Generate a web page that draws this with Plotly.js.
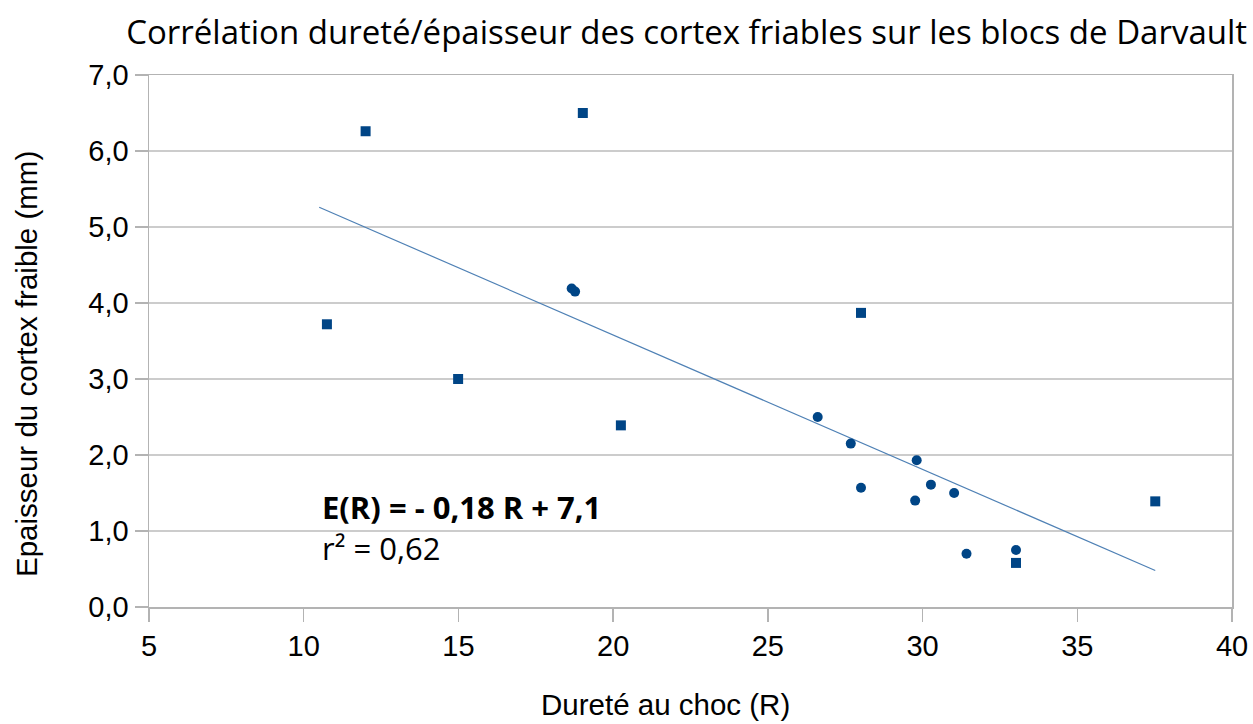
<!DOCTYPE html>
<html>
<head>
<meta charset="utf-8">
<script src="https://cdn.plot.ly/plotly-3.0.1.min.js"></script>
<style>html,body{margin:0;padding:0;background:#fff;}#chart{width:1253px;height:724px;}</style>
</head>
<body>
<div id="chart"></div>
<script>
// Square-marker series
const squareX = [10.75, 12.0, 19.02, 14.99, 20.25, 28.01, 33.02, 37.52];
const squareY = [3.72, 6.26, 6.50, 3.00, 2.39, 3.87, 0.58, 1.39];
// Circle-marker series
const circleX = [18.66, 18.77, 26.61, 27.68, 28.01, 29.81, 29.76, 30.27, 31.02, 31.42, 33.02];
const circleY = [4.19, 4.15, 2.50, 2.15, 1.57, 1.93, 1.40, 1.61, 1.50, 0.70, 0.75];
// Linear trend line endpoints
const trendX = [10.5, 37.52];
const trendY = [5.26, 0.48];
// Text
const chartTitle = "Corrélation dureté/épaisseur des cortex friables sur les blocs de Darvault";
const xTitle = "Dureté au choc (R)";
const yTitle = "Epaisseur du cortex fraible (mm)";
const eqText = "<b>E(R) = - 0,18 R + 7,1</b>";
const r2Text = "r² = 0,62";

const blue = "#004586";
const traces = [
  {x: trendX, y: trendY, type: "scatter", mode: "lines", line: {color: "#4f81b5", width: 1.2}, hoverinfo: "skip"},
  {x: squareX, y: squareY, type: "scatter", mode: "markers", marker: {symbol: "square", size: 10, color: blue}},
  {x: circleX, y: circleY, type: "scatter", mode: "markers", marker: {symbol: "circle", size: 10, color: blue}}
];
const W = 1253, H = 724;
const axFont = {family: "Liberation Sans, sans-serif", size: 29.5, color: "#000"};
const layout = {
  width: W, height: H,
  margin: {l: 149, r: 21, t: 75, b: 117},
  paper_bgcolor: "#fff", plot_bgcolor: "#fff",
  showlegend: false,
  separators: ", ",
  title: {text: chartTitle, font: {family: "Liberation Sans Narrow, Open Sans, sans-serif", size: 33, color: "#000"}, x: 0.548, xanchor: "center", y: 0.955, yanchor: "middle"},
  xaxis: {
    range: [5, 40], tick0: 5, dtick: 5, showgrid: false, zeroline: false,
    showline: true, linecolor: "#b3b3b3", linewidth: 1.5, mirror: true,
    ticks: "outside", ticklen: 13, tickcolor: "#b3b3b3", tickwidth: 1.5,
    tickfont: {family: "Liberation Sans, sans-serif", size: 29, color: "#000"}
  },
  yaxis: {
    range: [0, 7], dtick: 1, tickformat: ".1f", showgrid: true, gridcolor: "#cccccc", gridwidth: 1.5, zeroline: false,
    showline: true, linecolor: "#b3b3b3", linewidth: 1.5, mirror: true,
    ticks: "outside", ticklen: 13, tickcolor: "#b3b3b3", tickwidth: 1.5,
    tickfont: {family: "Liberation Sans, sans-serif", size: 29, color: "#000"}
  },
  annotations: [
    {xref: "paper", yref: "paper", x: (665-149)/1083, y: (607-704)/532, xanchor: "center", yanchor: "middle", showarrow: false, text: xTitle, font: axFont},
    {xref: "paper", yref: "paper", x: (27-149)/1083, y: (607-364)/532, xanchor: "center", yanchor: "middle", showarrow: false, textangle: -90, text: yTitle, font: axFont},
    {xref: "paper", yref: "paper", x: (320-149)/1083, y: (607-507)/532, xanchor: "left", yanchor: "middle", showarrow: false, text: eqText, font: {family: "Liberation Sans Narrow, Open Sans, sans-serif", size: 31, color: "#000"}},
    {xref: "paper", yref: "paper", x: (320-149)/1083, y: (607-548)/532, xanchor: "left", yanchor: "middle", showarrow: false, text: r2Text, font: {family: "Liberation Sans Narrow, Open Sans, sans-serif", size: 31, color: "#000"}}
  ]
};
Plotly.newPlot("chart", traces, layout, {displayModeBar: false, staticPlot: true});
</script>
</body>
</html>
